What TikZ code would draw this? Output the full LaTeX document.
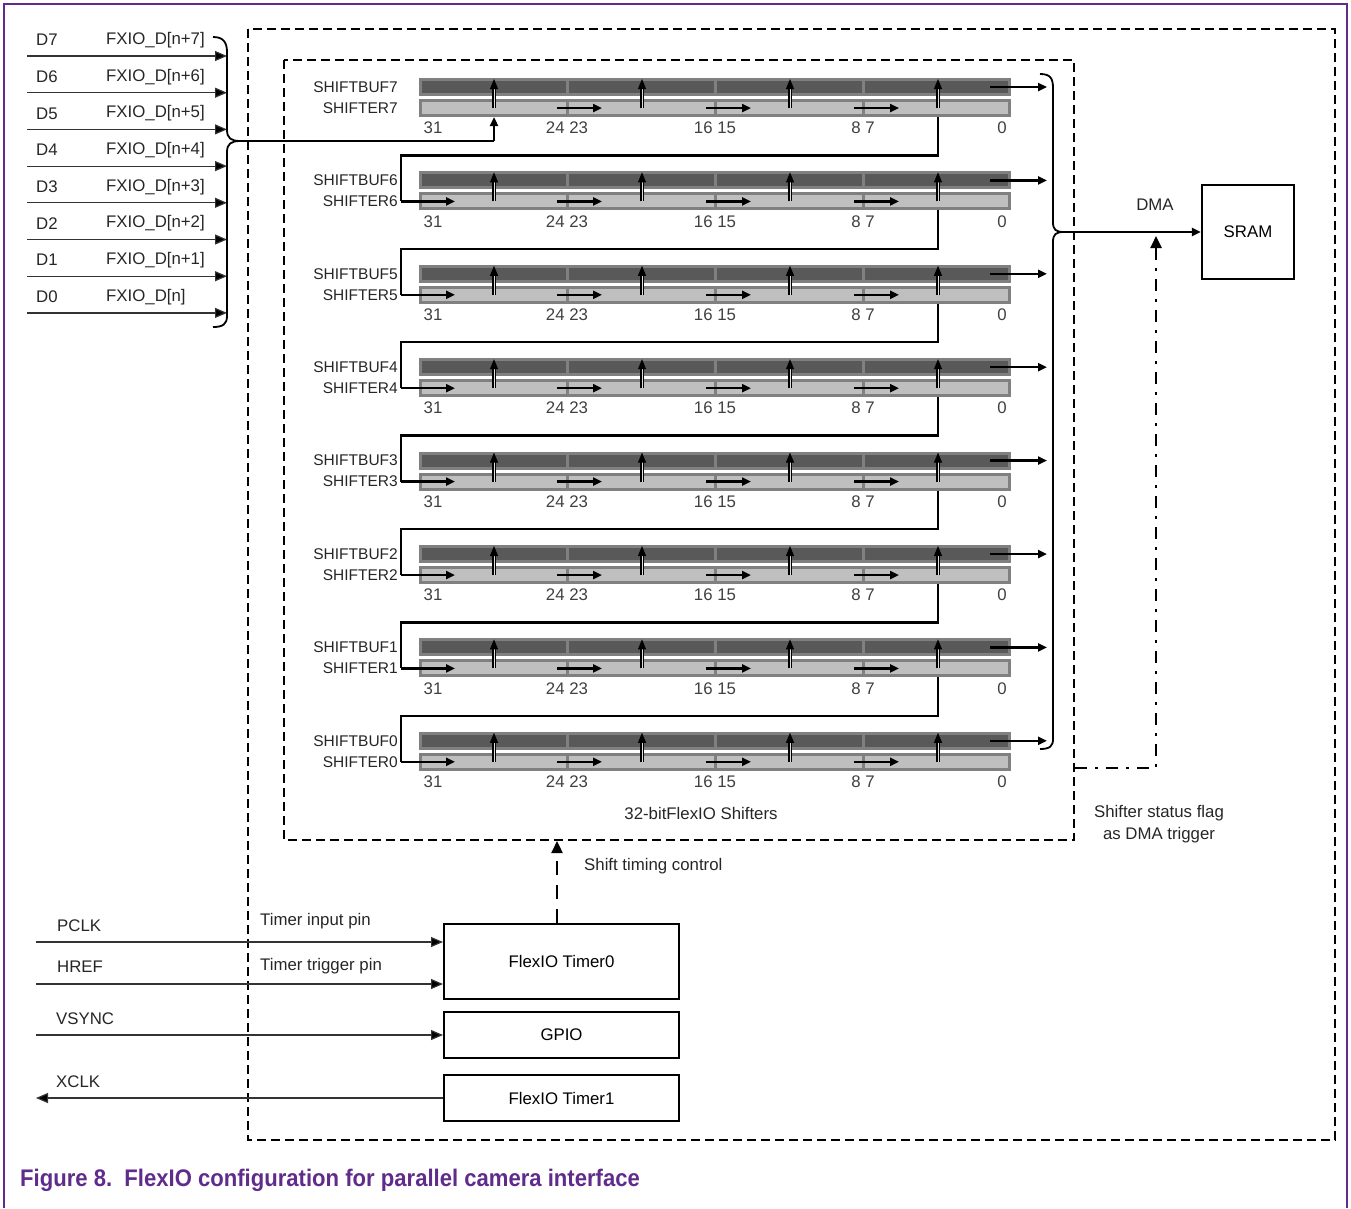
\documentclass[tikz,border=0pt]{standalone}
\usepackage{fontspec}
\setmainfont{Liberation Sans}
\newfontfamily\capfont[FakeStretch=0.92]{Liberation Sans}
\usetikzlibrary{arrows.meta,positioning}
\definecolor{nxppurple}{RGB}{96,44,140}
\definecolor{bufgray}{RGB}{89,89,89}
\definecolor{shgray}{RGB}{191,191,191}
\definecolor{rimgray}{RGB}{128,128,128}
\tikzset{
  lbl/.style={font=\fontsize{16.8}{20}\selectfont, inner sep=0pt, text=black!85},
  reglbl/.style={lbl, font=\fontsize{15.5}{18}\selectfont},
  bufbar/.style={draw=rimgray, fill=bufgray, line width=3pt, minimum width=589pt, minimum height=15pt, inner sep=0pt},
  shbar/.style={bufbar, fill=shgray},
  bus/.style={line width=2.4pt, -{Triangle[length=9pt,width=8pt]}},
  wire/.style={line width=1.2pt, draw=black!80, -{Triangle[length=12pt,width=10pt,fill=black]}},
  feed/.style={line width=2.4pt},
  fanup/.style={double=shgray!50, double distance=1pt, line width=1.1pt, -{Triangle[length=10pt,width=8pt]}},
  brace/.style={line width=1.8pt},
  blk/.style={draw, line width=2.4pt, inner sep=0pt, font=\fontsize{16.8}{20}\selectfont},
  dashbox/.style={line width=2.6pt, dash pattern=on 9pt off 5pt},
}
\begin{document}
\begin{tikzpicture}[x=1pt, y=-1pt]
  \useasboundingbox (0,0) rectangle (1351,1208);
  % frame and caption
  \draw[nxppurple, line width=2.6pt] (4,1208) -- (4,4) -- (1347,4) -- (1347,1208);
  \node[anchor=west, inner sep=0pt, text=nxppurple, font=\capfont\bfseries\fontsize{24}{28}\selectfont] (caption) at (20,1180)
    {Figure 8.\ \ FlexIO configuration for parallel camera interface};

  % dashed boxes
  \draw[dashbox] (248,29) rectangle (1335,1140);
  \draw[dashbox] (284,60) rectangle (1074,840);

  % camera data inputs
  \foreach \i in {0,...,7} {
    \pgfmathsetmacro{\yd}{56+(7-\i)*36.7}
    \coordinate (din\i) at (27,\yd);
    \draw[wire] (din\i) -- ++(200,0);
    \node[lbl, anchor=west] (dname\i) at (36,\yd-16) {D\i};
  }
  \foreach \i/\pin in {7/n+7,6/n+6,5/n+5,4/n+4,3/n+3,2/n+2,1/n+1,0/n}
    \node[lbl, anchor=west] at (106,{56+(7-\i)*36.7-16}) {FXIO\_D[\pin]};
  \coordinate (incusp) at (240,141);
  \draw[brace] (213,37) .. controls (223,37) and (227,42) .. (227,52) -- (227,130)
    .. controls (227,138) and (231,141) .. (incusp)
    .. controls (231,141) and (227,144) .. (227,152) -- (227,316)
    .. controls (227,324) and (223,327) .. (213,327);

  % shifters
  \foreach \k in {7,6,...,0} {
    \pgfmathsetmacro{\yb}{87+(7-\k)*93.4}
    \pgfmathsetmacro{\ys}{\yb+21}
    \node[bufbar] (buf\k) at (715,\yb) {};
    \node[shbar] (sh\k) at (715,\ys) {};
    \foreach \xd in {567,715,863}
      \draw[rimgray, line width=3pt] (\xd,\yb-7.5) -- (\xd,\yb+7.5) (\xd,\ys-7.5) -- (\xd,\ys+7.5);
    \node[reglbl, anchor=east] (bufname\k) at (398,\yb) {SHIFTBUF\k};
    \node[reglbl, anchor=east] (shname\k) at (398,\ys) {SHIFTER\k};
    \foreach \xu in {494,642,790,938}
      \draw[fanup] (\xu,\ys) -- (\xu,\yb-8);
    \foreach \xr in {557,706,854}
      \draw[bus] (\xr,\ys) -- ++(45,0);
    \draw[bus] (990,\yb) -- (1047,\yb);
    \foreach \xn/\bits in {433/31,567/24 23,715/16 15,863/8 7,1002/0}
      \node[lbl, text=black!75] at (\xn,\yb+41) {\bits};
  }
  % shifter chain
  \draw[feed] (incusp) -- (494,141);
  \draw[bus] (494,141) -- (sh7.south -| 494,0);
  \foreach \k [evaluate=\k as \up using int(\k+1)] in {6,...,0} {
    \pgfmathsetmacro{\yb}{87+(7-\k)*93.4}
    \draw[feed] (sh\up.south -| 938,0) -- (938,\yb-25) -- (401,\yb-25) -- (401,\yb+21);
    \draw[bus] (401,\yb+21) -- (455,\yb+21);
  }

  % DMA to SRAM
  \coordinate (outcusp) at (1064,232);
  \draw[brace] (1040,74) .. controls (1050,74) and (1053,78) .. (1053,88) -- (1053,222)
    .. controls (1053,230) and (1056,232) .. (outcusp)
    .. controls (1056,232) and (1053,234) .. (1053,242) -- (1053,739)
    .. controls (1053,746) and (1050,749) .. (1040,749);
  \node[blk, minimum width=92pt, minimum height=94pt] (sram) at (1248,232) {SRAM};
  \draw[bus] (outcusp) -- (sram.west);
  \node[lbl] (dma) at (1155,205) {DMA};
  \coordinate (flag) at (1075,768);
  \draw[line width=2.4pt, dash pattern=on 12pt off 8pt on 3pt off 8pt, -{Triangle[length=12pt,width=11pt]}]
    (flag) -- (1156,768) -- (1156,236);
  \node[lbl, align=center] (flagtext) at (1159,824) {Shifter status flag\\[2pt]as DMA trigger};
  \node[lbl] (shifters) at (701,813) {32-bitFlexIO Shifters};

  % timers and pins
  \node[blk, minimum width=234.6pt, minimum height=74.6pt] (timer0) at (561.5,961.5) {FlexIO Timer0};
  \node[blk, minimum width=234.6pt, minimum height=45.6pt] (gpio) at (561.5,1035) {GPIO};
  \node[blk, minimum width=234.6pt, minimum height=45.6pt] (timer1) at (561.5,1098) {FlexIO Timer1};
  \draw[line width=2.4pt, dash pattern=on 14pt off 10pt, -{Triangle[length=12pt,width=11pt]}]
    (timer0.north -| 557,0) -- (557,841);
  \node[lbl, anchor=west] (timing) at (584,866) {Shift timing control};
  \coordinate (pclk) at (36,942);
  \coordinate (href) at (36,984);
  \coordinate (vsync) at (36,1035);
  \coordinate (xclk) at (36,1098);
  \draw[wire] (pclk) -- (pclk -| timer0.west);
  \draw[wire] (href) -- (href -| timer0.west);
  \draw[wire] (vsync) -- (gpio.west);
  \draw[wire] (timer1.west) -- (xclk);
  \node[lbl, anchor=west] at (57,926) {PCLK};
  \node[lbl, anchor=west] at (57,967) {HREF};
  \node[lbl, anchor=west] at (56,1019) {VSYNC};
  \node[lbl, anchor=west] at (56,1082) {XCLK};
  \node[lbl, anchor=west] at (260,921) {Timer input pin};
  \node[lbl, anchor=west] at (260,966) {Timer trigger pin};
\end{tikzpicture}
\end{document}
